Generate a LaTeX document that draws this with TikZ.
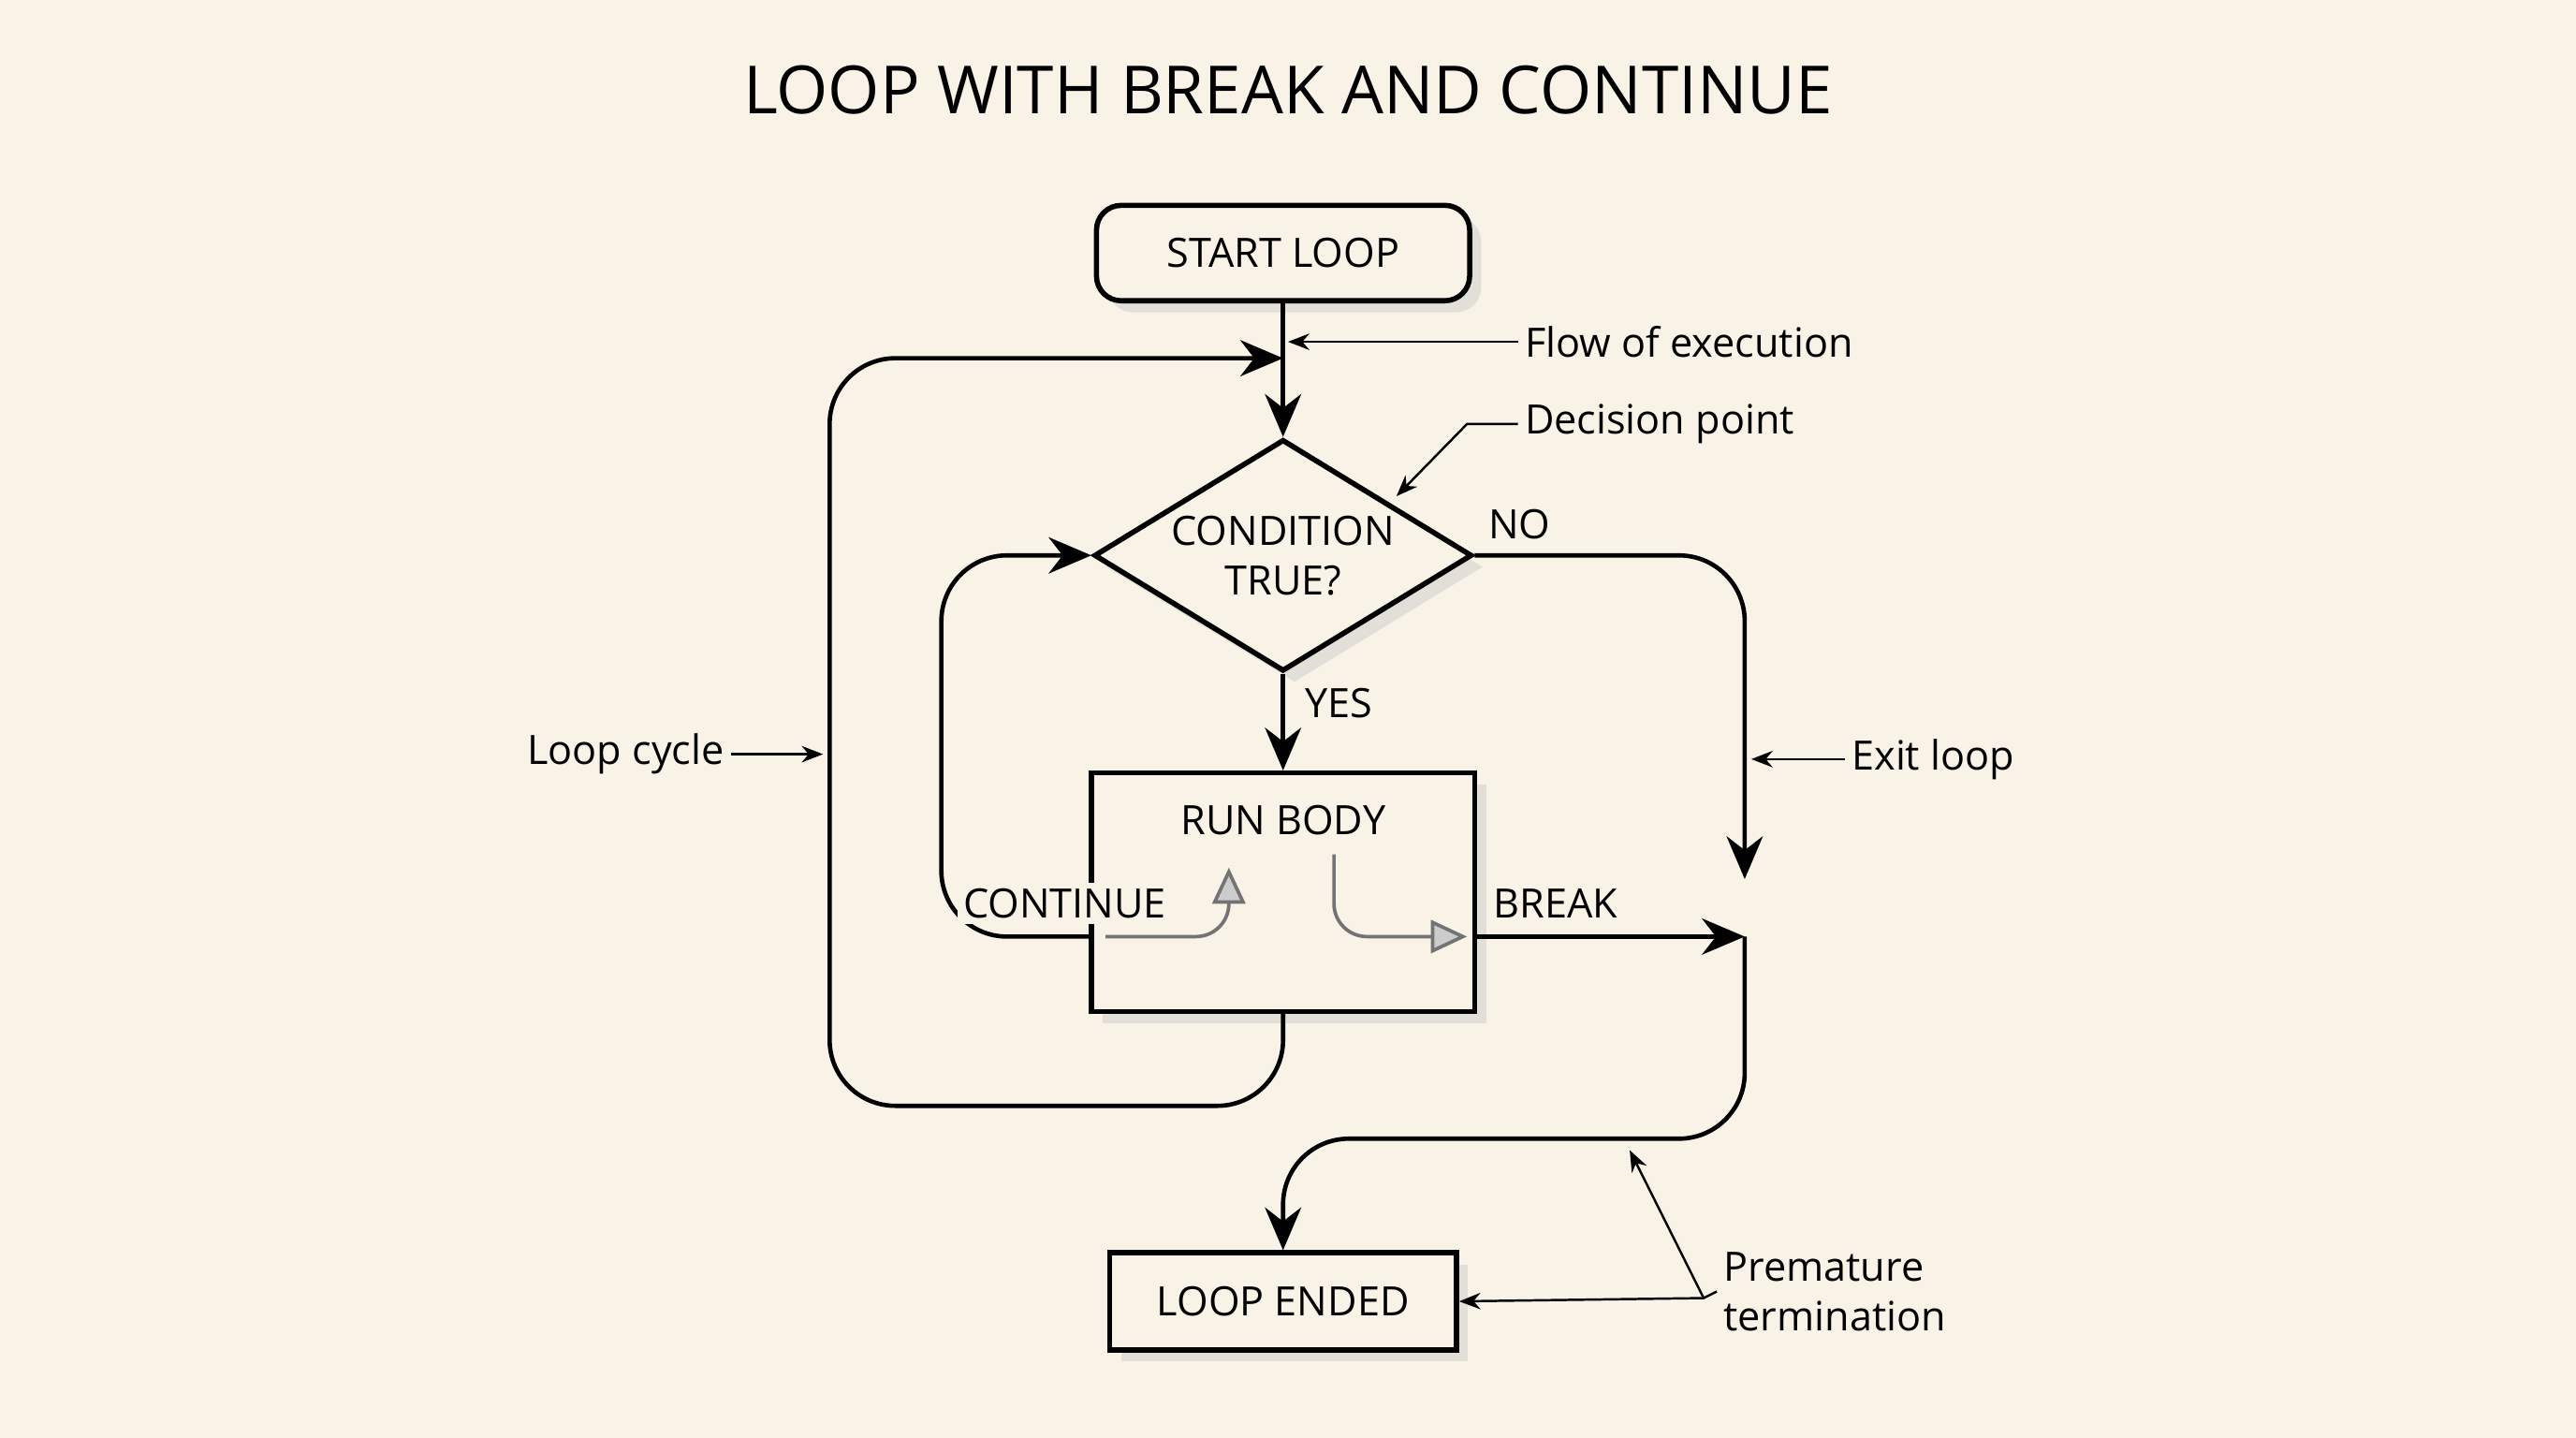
\documentclass[tikz,border=0pt]{standalone}
\usepackage{fontspec}
\setmainfont{Open Sans}
\usetikzlibrary{shapes.geometric,arrows.meta,positioning,shadows}
\definecolor{paper}{HTML}{F8F3E6}
\begin{document}
\begin{tikzpicture}[
        x=0.01cm, y=-0.01cm,
        >={Stealth[length=2.6mm,width=2.2mm]},
        flow/.style={draw, line width=0.75pt, rounded corners=4mm},
        note/.style={-{Stealth[length=1.3mm,width=1mm]}, line width=0.4pt},
        inner/.style={draw=black!55, line width=0.6pt, rounded corners=2mm, -{Triangle[open,fill=black!20,length=2.2mm,width=2mm]}},
        block/.style={draw, line width=0.9pt, fill=paper, font=\fontsize{7}{8.6}\selectfont,
            drop shadow={shadow xshift=0.7mm, shadow yshift=-0.7mm, fill=black!20}},
        lbl/.style={font=\fontsize{7}{8.6}\selectfont, inner sep=1pt}
    ]
        \fill[paper] (0,0) rectangle (1568,875);
        \useasboundingbox (0,0) rectangle (1568,875);

        % Title
        \node (title) [font=\fontsize{11.5}{14}\selectfont] at (784,55) {LOOP WITH BREAK AND CONTINUE};

        % Nodes
        \node (start) [block, rounded corners=1.5mm, minimum width=2.27cm, minimum height=0.58cm] at (781,154) {START LOOP};
        \node (cond) [block, diamond, aspect=1.63, minimum width=2.3cm, minimum height=1.41cm, inner sep=0pt, align=center] at (781,338) {CONDITION\\TRUE?};
        \node (body) [block, minimum width=2.33cm, minimum height=1.45cm] at (781,543) {};
        \node (bodylbl) [lbl] at (781,499) {RUN BODY};
        \node (ended) [block, minimum width=2.11cm, minimum height=0.59cm] at (781,792) {LOOP ENDED};

        % Coordinates
        \coordinate (cycle) at (781,218);
        \coordinate (exit) at (1062,535);
        \coordinate (join) at (1062,570);
        \coordinate (brk) at (898,570);
        \coordinate (cnt) at (665,570);

        % Connections
        \draw[flow, ->] (start) -- (cond.north);
        \draw[flow, ->] (body.south) |- (505,673) |- (cycle);
        \draw[flow, ->] (cnt) -| (573,338) -- (cond.west);
        \draw[flow, ->] (cond.east) -| (exit);
        \draw[flow, ->] (cond.south) -- (body.north);
        \draw[flow, ->] (brk) -- (join);
        \draw[flow, ->] (join) |- (781,693) -- (ended.north);

        % Inner paths
        \draw[inner] (673,570) -| (748,528);
        \draw[inner] (812,520) |- (893,570);

        % Labels
        \node (no) [lbl] at (925,319) {NO};
        \node (yes) [lbl] at (815,428) {YES};
        \node (cont) [lbl, fill=paper] at (648,550) {CONTINUE};
        \node (break) [lbl] at (947,550) {BREAK};

        % Annotations
        \node (flowlbl) [lbl, anchor=west] at (924,208) {Flow of execution};
        \draw[note] (flowlbl.west) -- (784,208);
        \node (declbl) [lbl, anchor=west] at (924,258) {Decision point};
        \draw[note] (declbl.west) -- (893,258) -- (850,302);
        \node (cyclbl) [lbl, anchor=east] at (445,459) {Loop cycle};
        \draw[note] (cyclbl.east) -- (501,459);
        \node (exitlbl) [lbl, anchor=west] at (1123,462) {Exit loop};
        \draw[note] (exitlbl.west) -- (1066,462);
        \node (premlbl) [lbl, anchor=west, align=left] at (1045,786) {Premature\\termination};
        \coordinate (prem) at (1037,790);
        \draw[note] (premlbl.west) -- (prem) -- (ended.east);
        \draw[note] (prem) -- (992,700);
    \end{tikzpicture}
\end{document}
